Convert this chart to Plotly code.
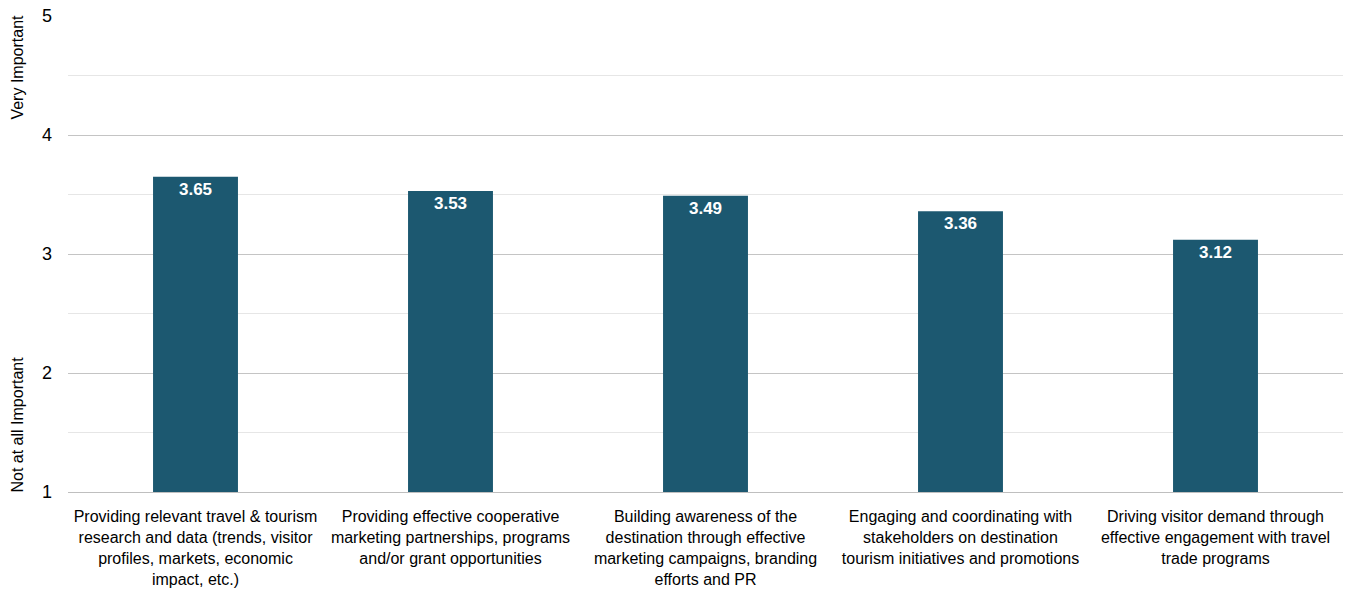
import plotly.graph_objects as go

categories = [
    "Providing relevant travel & tourism<br>research and data (trends, visitor<br>profiles, markets, economic<br>impact, etc.)",
    "Providing effective cooperative<br>marketing partnerships, programs<br>and/or grant opportunities",
    "Building awareness of the<br>destination through effective<br>marketing campaigns, branding<br>efforts and PR",
    "Engaging and coordinating with<br>stakeholders on destination<br>tourism initiatives and promotions",
    "Driving visitor demand through<br>effective engagement with travel<br>trade programs",
]
scores = [3.65, 3.53, 3.49, 3.36, 3.12]
y_ticks = [1, 2, 3, 4, 5]

FONT = "Liberation Sans Narrow, Arial Narrow, Liberation Sans, Arial, sans-serif"
BAR_COLOR = "#1c5870"

fig = go.Figure(
    go.Bar(
        x=categories,
        y=[s - 1 for s in scores],
        base=1,
        marker=dict(color=BAR_COLOR, line=dict(width=0)),
        text=[f"{s:.2f}" for s in scores],
        textposition="inside",
        insidetextanchor="end",
        textangle=0,
        textfont=dict(family=FONT, size=17, color="white", weight="bold"),
        cliponaxis=False,
        hoverinfo="skip",
    )
)

fig.update_layout(
    width=1348,
    height=599,
    margin=dict(l=68, r=5, t=16, b=107, autoexpand=False),
    paper_bgcolor="white",
    plot_bgcolor="white",
    bargap=0.667,
    showlegend=False,
    font=dict(family=FONT, size=16, color="#000000"),
    uniformtext=dict(mode="show", minsize=17),
)

fig.update_xaxes(
    automargin=False,
    tickangle=0,
    showgrid=False,
    showline=True,
    linecolor="#bfbfbf",
    linewidth=1,
    ticks="",
    tickfont=dict(family=FONT, size=16, color="#000000"),
    ticklabelstandoff=10,
)

fig.update_yaxes(
    automargin=False,
    range=[1, 5],
    tickvals=y_ticks,
    ticktext=[str(v) for v in y_ticks],
    showgrid=True,
    gridcolor="#c4c4c4",
    gridwidth=1,
    minor=dict(dtick=0.5, tick0=1, showgrid=True, gridcolor="#e6e6e6", gridwidth=1),
    zeroline=False,
    showline=False,
    ticks="",
    ticklabelstandoff=15,
    tickfont=dict(family=FONT, size=18, color="#000000"),
)

# Two-part rotated axis caption
fig.add_annotation(
    text="Very Important", xref="paper", yref="paper",
    x=-0.0395, y=0.893, xanchor="center", yanchor="middle",
    textangle=-90, showarrow=False,
    font=dict(family=FONT, size=16, color="#000000"),
)
fig.add_annotation(
    text="Not at all Important", xref="paper", yref="paper",
    x=-0.0395, y=0.141, xanchor="center", yanchor="middle",
    textangle=-90, showarrow=False,
    font=dict(family=FONT, size=16, color="#000000"),
)

fig.write_html("out.html")
